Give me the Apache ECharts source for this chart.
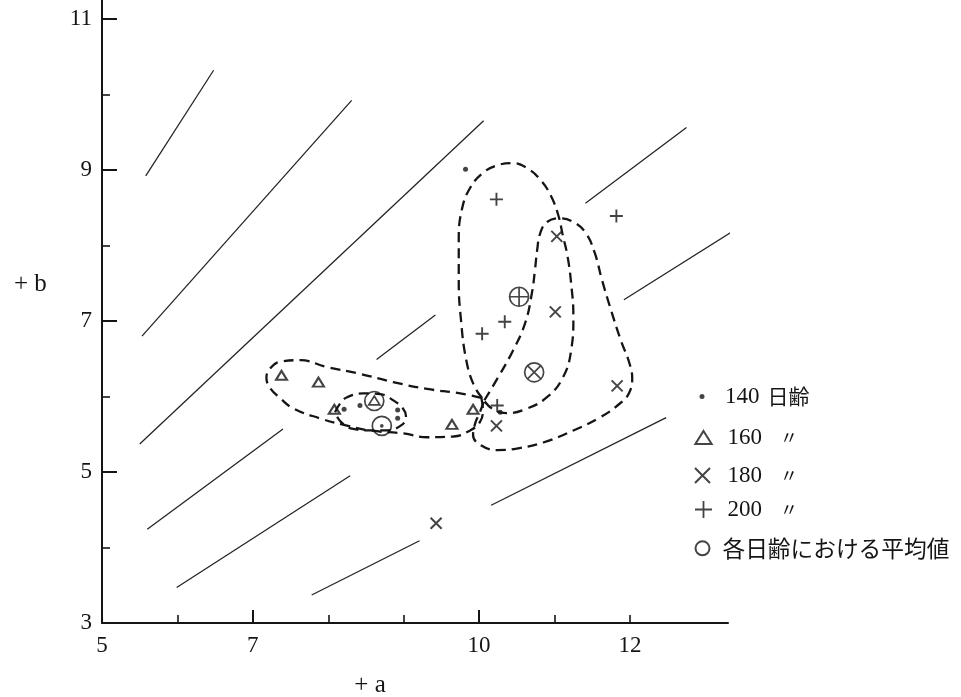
<!DOCTYPE html>
<html><head><meta charset="utf-8">
<script src="https://cdn.jsdelivr.net/npm/echarts@6/dist/echarts.min.js"></script>
<style>html,body{margin:0;padding:0;background:#fff}#c{width:961px;height:697px}</style>
</head><body><div id="c"></div>
<script>
// ---- data ----
const xMajorTicks = [7, 10];
const xMinorTicks = [6, 8, 9, 11, 12];
const xTickLabels = [5, 7, 10, 12];
const yMajorTicks = [5, 7, 9, 11];
const yMinorTicks = [4, 6, 8, 10];
const yTickLabels = [3, 5, 7, 9, 11];

const names = ['140 日齢', '160 〃', '180 〃', '200 〃', '各日齢における平均値'];

const days140 = [[8.21,5.83],[8.42,5.88],[8.92,5.82],[8.92,5.71],[9.82,9.01],[10.28,5.79]];
const days160 = [[7.38,6.28],[7.87,6.19],[8.08,5.83],[9.64,5.63],[9.92,5.83]];
const days180 = [[11.03,8.12],[11.01,7.12],[11.83,6.14],[10.23,5.61],[9.43,4.32]];
const days200 = [[10.23,8.61],[11.82,8.39],[10.34,6.99],[10.04,6.83],[10.24,5.88]];
const meanPoints = [[8.71,5.61],[8.61,5.94],[10.73,6.32],[10.53,7.32]];
const meanKinds = ['dot','tri','cross','plus'];

const loop140 = [[8.09,5.79],[8.16,5.91],[8.25,5.99],[8.46,6.04],[8.69,6.03],[8.86,5.95],[8.99,5.84],[9.03,5.74],[8.97,5.62],[8.75,5.55],[8.55,5.55],[8.33,5.57],[8.17,5.66],[8.09,5.79]];
const loop160 = [[10.03,5.98],[9.75,6.04],[9.31,6.10],[8.86,6.19],[8.42,6.30],[7.98,6.39],[7.63,6.48],[7.36,6.46],[7.23,6.37],[7.18,6.25],[7.23,6.11],[7.36,5.98],[7.54,5.84],[7.89,5.71],[8.22,5.62],[8.55,5.55],[9.00,5.51],[9.31,5.46],[9.66,5.47],[9.88,5.55],[10.01,5.66],[10.05,5.82],[10.03,5.98]];
const loop200 = [[10.04,5.98],[9.93,6.15],[9.83,6.48],[9.76,7.01],[9.73,7.54],[9.73,8.07],[9.77,8.47],[9.88,8.76],[10.05,8.96],[10.24,9.06],[10.44,9.09],[10.64,9.02],[10.82,8.86],[10.95,8.66],[11.05,8.40],[11.11,8.13],[11.17,7.87],[11.22,7.50],[11.25,7.05],[11.22,6.61],[11.11,6.25],[10.90,5.99],[10.61,5.83],[10.36,5.78],[10.17,5.84],[10.04,5.98]];
const loop180 = [[10.07,5.95],[10.25,6.25],[10.45,6.61],[10.61,6.97],[10.70,7.37],[10.74,7.67],[10.77,7.94],[10.81,8.16],[10.90,8.31],[11.07,8.36],[11.25,8.31],[11.41,8.17],[11.53,7.91],[11.63,7.54],[11.75,7.14],[11.88,6.74],[11.99,6.45],[12.03,6.24],[11.99,6.05],[11.87,5.91],[11.60,5.72],[11.25,5.55],[10.85,5.39],[10.50,5.31],[10.24,5.29],[10.03,5.35],[9.92,5.49],[9.95,5.65],[10.01,5.79],[10.07,5.95]];

const refSegments = [
  [[5.58,8.92],[6.48,10.32]],
  [[5.53,6.80],[8.31,9.92]],
  [[5.50,5.37],[10.06,9.65]],
  [[5.60,4.24],[7.40,5.57]],
  [[8.64,6.49],[9.42,7.08]],
  [[11.41,8.56],[12.75,9.56]],
  [[5.99,3.47],[8.29,4.95]],
  [[11.92,7.28],[13.97,8.57]],
  [[7.78,3.37],[9.21,4.09]],
  [[10.16,4.56],[12.48,5.72]]
];

// ---- symbols ----
const INK = '#151515';
const P_TRI = 'path://M0,-0.8L1,0.8L-1,0.8Z';
const P_CROSS = 'path://M-1,-1L1,1M1,-1L-1,1';
const P_PLUS = 'path://M0,-1L0,1M-1,0L1,0';
const CIRC = 'M-1,0A1,1,0,1,1,1,0A1,1,0,1,1,-1,0Z';
const P_CIRC = 'path://' + CIRC;
const meanSym = {
  dot: 'path://' + CIRC + 'M0.1,0A0.1,0.1,0,1,1,-0.1,0A0.1,0.1,0,1,1,0.1,0Z',
  tri: 'path://' + CIRC + 'M0,-0.52L0.58,0.4L-0.58,0.4Z',
  cross: 'path://' + CIRC + 'M-0.7,-0.7L0.7,0.7M0.7,-0.7L-0.7,0.7',
  plus: 'path://' + CIRC + 'M0,-1L0,1M-1,0L1,0'
};
const strokeStyle = w => ({color: 'none', borderColor: INK, borderWidth: w});

const series = [];
refSegments.forEach(seg => series.push({
  type: 'line', data: seg, symbol: 'none', silent: true, clip: false, z: 1,
  lineStyle: {color: '#222', width: 1.25}
}));
[loop140, loop160, loop200, loop180].forEach(lp => series.push({
  type: 'line', data: lp, symbol: 'none', silent: true, smooth: 0.45, z: 2,
  lineStyle: {color: INK, width: 2.3, type: [10, 6]}
}));
series.push(
  {type: 'scatter', name: names[0], data: days140, symbol: 'circle', symbolSize: 5, z: 5,
   itemStyle: {color: INK}},
  {type: 'scatter', name: names[1], data: days160, symbol: P_TRI, symbolSize: [11, 9], z: 5,
   itemStyle: strokeStyle(2.1)},
  {type: 'scatter', name: names[2], data: days180, symbol: P_CROSS, symbolSize: 11, z: 5,
   itemStyle: strokeStyle(2)},
  {type: 'scatter', name: names[3], data: days200, symbol: P_PLUS, symbolSize: 13, z: 5,
   itemStyle: strokeStyle(1.9)},
  {type: 'scatter', name: names[4], symbol: P_CIRC, symbolSize: 19, z: 6,
   data: meanPoints.map((p, i) => ({value: p, symbol: meanSym[meanKinds[i]]})),
   itemStyle: strokeStyle(1.7)}
);

// ---- legends ----
const rich = {
  n: {fontFamily: 'Liberation Serif', fontSize: 23, lineHeight: 24, color: INK},
  j: {fontFamily: 'Noto Sans CJK JP', fontSize: 21, lineHeight: 24, color: INK, padding: [0, 0, 0, 8]},
  d: {fontFamily: 'Noto Sans CJK JP', fontSize: 18, lineHeight: 24, color: INK, padding: [0, 0, 0, 18]},
  m: {fontFamily: 'Noto Sans CJK JP', fontSize: 22.7, lineHeight: 24, color: INK}
};
const legendText = {
  [names[0]]: '{n|140}{j|日齢}',
  [names[1]]: '{n|160}{d|〃}',
  [names[2]]: '{n|180}{d|〃}',
  [names[3]]: '{n|200}{d|〃}',
  [names[4]]: '{m|各日齢における平均値}'
};
function mkLegend(name, icon, iconW, h, cx, cy, textX, style) {
  const w = 2 * (textX - 5 - cx);
  return {
    data: [name], icon: icon, itemWidth: w, itemHeight: h, left: cx - iconW / 2, top: cy - 12,
    padding: 0, selectedMode: false, orient: 'vertical', itemStyle: style,
    formatter: n => legendText[n], textStyle: {rich: rich}
  };
}
const legends = [
  mkLegend(names[0], 'circle', 5, 5, 702, 397, 725, {color: INK, borderWidth: 0}),
  mkLegend(names[1], P_TRI, 16.25, 13, 701, 438, 725, strokeStyle(2)),
  mkLegend(names[2], P_CROSS, 15, 15, 700, 476, 725, strokeStyle(2)),
  mkLegend(names[3], P_PLUS, 17, 17, 701, 510, 725, strokeStyle(1.8)),
  mkLegend(names[4], P_CIRC, 14, 14, 700, 549, 720, strokeStyle(2))
];

const labelFont = {fontFamily: 'Liberation Serif', fontSize: 23, color: INK};
const baseX = {type: 'value', min: 5, max: 13.3, position: 'bottom', splitLine: {show: false}};
const baseY = {type: 'value', min: 3, max: 11.25, position: 'left', splitLine: {show: false}};

const chart = echarts.init(document.getElementById('c'), null, {renderer: 'canvas'});
chart.setOption({
  animation: false,
  backgroundColor: '#fff',
  grid: {left: 102, right: 233, top: 0, bottom: 74, containLabel: false, outerBoundsMode: 'none'},
  xAxis: [
    Object.assign({}, baseX, {
      axisLine: {onZero: false, lineStyle: {color: INK, width: 2}},
      axisTick: {inside: true, length: 13, customValues: xMajorTicks, lineStyle: {color: INK, width: 2}},
      axisLabel: Object.assign({margin: 11, customValues: xTickLabels}, labelFont),
      name: '+ a', nameLocation: 'middle', nameGap: 50,
      nameTextStyle: {fontFamily: 'Liberation Serif', fontSize: 25, color: INK, padding: [0, 90, 0, 0]}
    }),
    Object.assign({}, baseX, {
      axisLine: {show: false, onZero: false},
      axisTick: {inside: true, length: 8, customValues: xMinorTicks, lineStyle: {color: INK, width: 1.6}},
      axisLabel: {show: false}
    })
  ],
  yAxis: [
    Object.assign({}, baseY, {
      axisLine: {onZero: false, lineStyle: {color: INK, width: 2}},
      axisTick: {inside: true, length: 15, customValues: yMajorTicks, lineStyle: {color: INK, width: 2}},
      axisLabel: Object.assign({margin: 10, customValues: yTickLabels}, labelFont)
    }),
    Object.assign({}, baseY, {
      axisLine: {show: false, onZero: false},
      axisTick: {inside: true, length: 8, customValues: yMinorTicks, lineStyle: {color: INK, width: 1.6}},
      axisLabel: {show: false}
    })
  ],
  graphic: [{
    type: 'text', left: 14, top: 272,
    style: {text: '+ b', font: '25px "Liberation Serif"', fill: INK}
  }],
  legend: legends,
  series: series
});
</script></body></html>
